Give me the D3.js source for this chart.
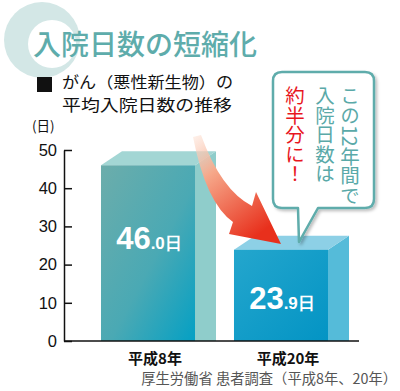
<!DOCTYPE html>
<html><head><meta charset="utf-8">
<script src="https://cdn.jsdelivr.net/npm/d3@7"></script>
<style>
html,body{margin:0;padding:0;background:#fff;}
svg{display:block;}
</style>
</head><body>
<svg id="chart" width="400" height="391"></svg>
<script>
const title = "入院日数の短縮化";
const subtitle1 = "がん（悪性新生物）の";
const subtitle2 = "平均入院日数の推移";
const unitLabel = "(日)";
const categories = ["平成8年", "平成20年"];
const values = [46.0, 23.9];
const valueLabels = [["46", ".0日"], ["23", ".9日"]];
const yTicks = [0, 10, 20, 30, 40, 50];
const calloutCols = [
  {text: "この12年間で", color: "#5aa9a8"},
  {text: "入院日数は", color: "#5aa9a8"},
  {text: "約半分に！", color: "#e8161e"}
];
const source = "厚生労働省 患者調査（平成8年、20年）";

const svg = d3.select("#chart");
const jp = "'Noto Sans CJK JP', 'Noto Sans', sans-serif";
const lat = "'Liberation Sans', Arial, sans-serif";

const defs = svg.append("defs");
function lin(id, x1, y1, x2, y2, stops) {
  const g = defs.append("linearGradient").attr("id", id)
    .attr("x1", x1).attr("y1", y1).attr("x2", x2).attr("y2", y2);
  stops.forEach(s => g.append("stop").attr("offset", s[0]).attr("stop-color", s[1]).attr("stop-opacity", s[2] == null ? 1 : s[2]));
}
lin("f0", 0, 0, 1, 1, [[0, "#6cadab"], [0.55, "#4aa9b4"], [1, "#04a0c4"]]);
lin("f1", 0, 0, 1, 1, [[0, "#24a6cd"], [1, "#0394c4"]]);
lin("arrowG", 0, 0, 0.6, 1, [[0, "#fde3d6", 0.5], [0.35, "#f6a88a"], [1, "#e8301c"]]);
const sh = defs.append("filter").attr("id", "shadow").attr("x", -0.2).attr("y", -0.2).attr("width", 1.5).attr("height", 1.5);
sh.append("feDropShadow").attr("dx", 2).attr("dy", 2).attr("stdDeviation", 1.5).attr("flood-color", "#000").attr("flood-opacity", 0.25);

// decorative ring
svg.append("circle").attr("cx", 42).attr("cy", 40).attr("r", 38).attr("fill", "#d3e7e6");
svg.append("circle").attr("cx", 52).attr("cy", 44).attr("r", 24).attr("fill", "#fff");

// title
svg.append("text").attr("x", 33).attr("y", 55).text(title)
  .attr("font-family", jp).attr("font-size", 28).attr("font-weight", 500).attr("fill", "#5eacab");

// subtitle (two lines)
svg.append("rect").attr("x", 37).attr("y", 77).attr("width", 15).attr("height", 15).attr("fill", "#111");
svg.append("text").attr("x", 62).attr("y", 87.5).attr("font-size", 15.6).text(subtitle1)
  .attr("font-family", jp).attr("fill", "#111")
  .attr("textLength", 171).attr("lengthAdjust", "spacingAndGlyphs");
svg.append("text").attr("x", 62).attr("y", 110.5).attr("font-size", 15.6).text(subtitle2)
  .attr("font-family", jp).attr("fill", "#111")
  .attr("textLength", 170).attr("lengthAdjust", "spacingAndGlyphs");
svg.append("text").attr("x", 32).attr("y", 131).text(unitLabel)
  .attr("font-family", jp).attr("font-size", 13.5).attr("fill", "#111");

// scales
const y = d3.scaleLinear().domain([0, 50]).range([341, 150]);
const x = d3.scaleBand().domain(categories).range([81.5, 347.5]).paddingInner(0.293).paddingOuter(0.1465);
const dx = 21, dy = -14;

// y axis
const yAxis = d3.axisLeft(y).tickValues(yTicks).tickSizeInner(-8).tickSizeOuter(0).tickPadding(7);
const ga = svg.append("g").attr("transform", "translate(64,0)").call(yAxis);
ga.select(".domain").attr("stroke", "#111").attr("stroke-width", 1.5);
ga.selectAll(".tick line").attr("stroke", "#111").attr("stroke-width", 1.5);
ga.selectAll(".tick text").attr("font-family", lat).attr("font-size", 16.5).attr("fill", "#111");

// bars
const tops = ["#a3d6d4", "#8dd0e6"];
const sides = ["#8fcdcb", "#55bbd9"];
const bars = svg.append("g");
categories.forEach((c, i) => {
  const x0 = x(c), w = x.bandwidth(), yt = y(values[i]), yb = y(0);
  bars.append("path")
    .attr("d", `M${x0 + w},${yt} L${x0 + w + dx},${yt + dy} L${x0 + w + dx},${yb} L${x0 + w},${yb} Z`)
    .attr("fill", sides[i]);
  bars.append("path")
    .attr("d", `M${x0},${yt} L${x0 + dx},${yt + dy} L${x0 + w + dx},${yt + dy} L${x0 + w},${yt} Z`)
    .attr("fill", tops[i]);
  bars.append("rect").attr("x", x0).attr("y", yt).attr("width", w).attr("height", yb - yt)
    .attr("fill", `url(#f${i})`);
  const yl = i === 0 ? y(values[i] * 0.53) + 1 : y(values[i] * 0.35);
  const t = bars.append("text").attr("x", x0 + w / 2 + 1).attr("y", yl)
    .attr("text-anchor", "middle").attr("font-family", lat).attr("font-weight", "bold").attr("fill", "#fff");
  t.append("tspan").attr("font-size", 31).text(valueLabels[i][0]);
  t.append("tspan").attr("font-size", 17).text(valueLabels[i][1]);
  svg.append("text").attr("x", x0 + w / 2 + 7).attr("y", 364).text(c)
    .attr("text-anchor", "middle").attr("font-family", jp).attr("font-weight", "bold")
    .attr("font-size", 15).attr("fill", "#111");
});

// baseline
svg.append("line").attr("x1", 64).attr("x2", 359).attr("y1", y(0)).attr("y2", y(0))
  .attr("stroke", "#111").attr("stroke-width", 1.5);

// arrow
svg.append("path")
  .attr("d", "M193,137 Q206,203 233,222 L229,234 L281,244 L256,192 L252,206 Q221,190 201,135 Z")
  .attr("fill", "url(#arrowG)");

// callout
const bx0 = 273, by0 = 72, bx1 = 374, by1 = 208, r = 9;
const cp = `M${bx0 + r},${by0} H${bx1 - r} Q${bx1},${by0} ${bx1},${by0 + r} V${by1 - r} Q${bx1},${by1} ${bx1 - r},${by1}
 H318 L299,242 L298,${by1} H${bx0 + r} Q${bx0},${by1} ${bx0},${by1 - r} V${by0 + r} Q${bx0},${by0} ${bx0 + r},${by0} Z`;
svg.append("path").attr("d", cp).attr("fill", "#fff").attr("stroke", "#5eacab").attr("stroke-width", 2.5)
  .attr("stroke-linejoin", "round").attr("filter", "url(#shadow)");

const colX = [350, 325, 295];
calloutCols.forEach((col, ci) => {
  svg.append("text").attr("x", colX[ci]).attr("y", 86)
    .style("writing-mode", "vertical-rl")
    .attr("font-family", jp).attr("font-size", 19.5).attr("fill", col.color).text(col.text);
});

// source
svg.append("text").attr("x", 397).attr("y", 384).attr("text-anchor", "end").text(source)
  .attr("font-family", jp).attr("font-size", 14.3).attr("fill", "#555");
</script>
</body></html>
